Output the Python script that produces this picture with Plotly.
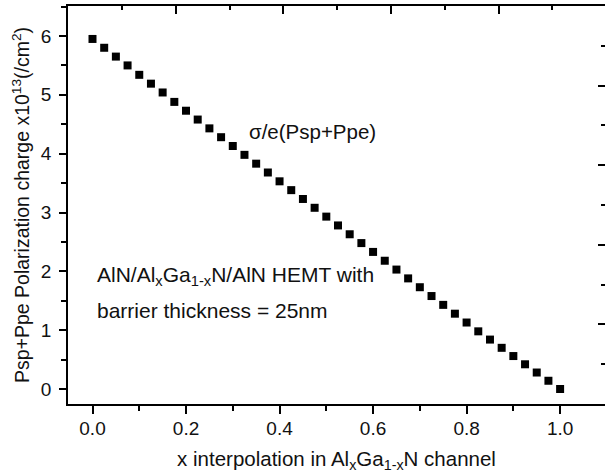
import plotly.graph_objects as go

# Data
x_frac = [i / 40 for i in range(41)]
charge = [5.95, 5.80, 5.65, 5.50, 5.34, 5.19, 5.04, 4.88, 4.73, 4.58,
          4.43, 4.28, 4.13, 3.98, 3.83, 3.68, 3.53, 3.38, 3.23, 3.08,
          2.93, 2.78, 2.63, 2.48, 2.33, 2.18, 2.03, 1.88, 1.73, 1.58,
          1.43, 1.28, 1.13, 0.98, 0.84, 0.70, 0.56, 0.42, 0.28, 0.14, 0.00]
x_ticks = [0.0, 0.2, 0.4, 0.6, 0.8, 1.0]
x_tick_labels = ["0.0", "0.2", "0.4", "0.6", "0.8", "1.0"]
y_ticks = [0, 1, 2, 3, 4, 5, 6]

FONT = "Arial, Liberation Sans, sans-serif"

fig = go.Figure()
fig.add_trace(go.Scatter(
    x=x_frac, y=charge, mode="markers",
    marker=dict(symbol="square", size=8, color="black"),
    showlegend=False, hoverinfo="skip"))
# invisible trace to activate the top / right frame axes
fig.add_trace(go.Scatter(x=[], y=[], xaxis="x2", yaxis="y2",
                         showlegend=False, hoverinfo="skip"))

fig.update_layout(
    width=605, height=474,
    margin=dict(l=68, r=0, t=6, b=70),
    paper_bgcolor="white", plot_bgcolor="white",
    font=dict(family=FONT, color="#111111", size=19),
    xaxis=dict(
        range=[-0.0524, 1.096], tickvals=x_ticks, ticktext=x_tick_labels,
        showline=True, linecolor="black", linewidth=1.5,
        ticks="outside", ticklen=8, tickwidth=1.5, tickcolor="black",
        minor=dict(dtick=0.1, tick0=0, ticks="outside", ticklen=5,
                   tickwidth=1.5, tickcolor="black"),
        showgrid=False, zeroline=False,
        tickfont=dict(size=19), ticklabelstandoff=-2,
        title=dict(text="x interpolation in Al<sub>x</sub>Ga<sub>1-x</sub>N channel",
                   font=dict(size=20.5), standoff=14),
    ),
    yaxis=dict(
        range=[-0.255, 6.51], tickvals=y_ticks,
        showline=True, linecolor="black", linewidth=1.5,
        ticks="outside", ticklen=7, tickwidth=1.5, tickcolor="black",
        minor=dict(dtick=0.5, tick0=0, ticks="outside", ticklen=5,
                   tickwidth=1.5, tickcolor="black"),
        showgrid=False, zeroline=False,
        tickfont=dict(size=19), ticklabelstandoff=4,
        title=dict(text="Psp+Ppe Polarization charge x10<sup>13</sup>(/cm<sup>2</sup>)",
                   font=dict(size=19.5), standoff=6),
    ),
    xaxis2=dict(
        overlaying="x", side="top", anchor="y",
        range=[-0.004, 9.98], tickvals=[2, 4, 6, 8], showticklabels=False,
        showline=True, linecolor="black", linewidth=1.5,
        ticks="inside", ticklen=8, tickwidth=1.5, tickcolor="black",
        minor=dict(tickvals=[1, 3, 5, 7, 9], ticks="inside", ticklen=4,
                   tickwidth=1.5, tickcolor="black"),
        showgrid=False, zeroline=False,
    ),
    yaxis2=dict(
        overlaying="y", side="right", anchor="x",
        range=[0, 10.0], tickvals=[2, 4, 6, 8], showticklabels=False,
        showline=False,
        ticks="inside", ticklen=7, tickwidth=1.5, tickcolor="black",
        minor=dict(tickvals=[1, 3, 5, 7, 9], ticks="inside", ticklen=4,
                   tickwidth=1.5, tickcolor="black"),
        showgrid=False, zeroline=False,
    ),
    annotations=[
        dict(x=0.33, y=4.37, xref="x", yref="y", xanchor="left", yanchor="middle",
             text="σ/e(Psp+Ppe)", showarrow=False, font=dict(size=20.5)),
        dict(x=0.005, y=1.92, xref="x", yref="y", xanchor="left", yanchor="middle",
             text="AlN/Al<sub>x</sub>Ga<sub>1-x</sub>N/AlN HEMT with",
             showarrow=False, font=dict(size=21)),
        dict(x=0.005, y=1.34, xref="x", yref="y", xanchor="left", yanchor="middle",
             text="barrier thickness = 25nm", showarrow=False, font=dict(size=21)),
    ],
)

fig.write_html("out.html")
